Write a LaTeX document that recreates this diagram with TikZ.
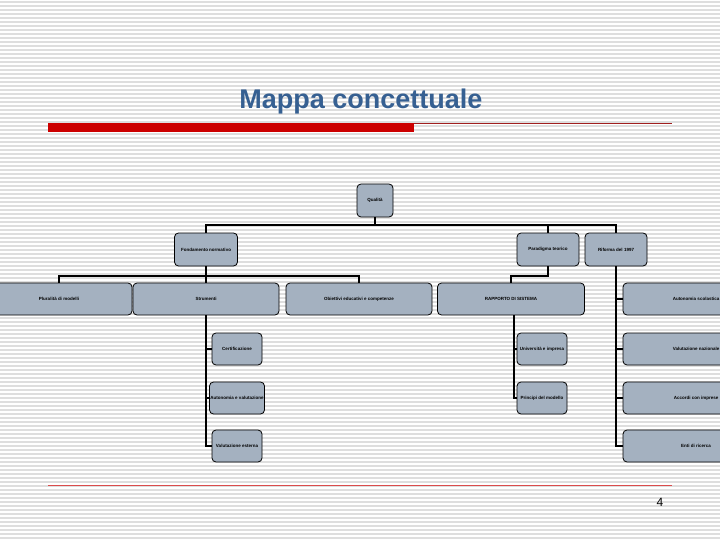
\documentclass[tikz,border=0pt]{standalone}
\usepackage{fontspec}
\setmainfont{Liberation Sans}
\definecolor{titleblue}{RGB}{54,96,146}
\definecolor{boxfill}{RGB}{164,177,192}
\definecolor{barred}{RGB}{204,0,0}
\definecolor{linered}{RGB}{160,30,30}
\definecolor{stripegray}{RGB}{222,222,222}
\tikzset{
  stripe/.style={draw=stripegray, line width=1.2pt},
  nbox/.style={draw=black, line width=0.8pt, fill=boxfill, rounded corners=4pt,
    inner sep=1pt, align=center, font=\fontsize{4.5}{5}\selectfont\bfseries},
  conn/.style={draw=black, line width=2.6pt},
}
\begin{document}
\begin{tikzpicture}[x=1pt,y=-1pt]
\useasboundingbox (0,0) rectangle (720,540);
\clip (0,0) rectangle (720,540);
\fill[white] (0,0) rectangle (720,540);
\foreach \yy in {2,6,...,540} \draw[stripe] (0,\yy) -- (720,\yy);

% title
\node[font=\fontsize{27}{30}\selectfont\bfseries, text=titleblue] (title) at (361,102) {Mappa concettuale};
\fill[barred] (48,123) rectangle (414,132);
\draw[linered, line width=0.8pt] (414,123.5) -- (672,123.5);
\draw[barred!70, line width=0.8pt] (48,485) -- (672,485);
\node[font=\fontsize{12}{14}\selectfont] (pnum) at (660,502) {4};

% nodes
\node[nbox, minimum width=36pt, minimum height=33pt] (root) at (375,200.5) {Qualità};
\node[nbox, minimum width=63pt, minimum height=33pt] (l1a) at (206,249.5) {Fondamento normativo};
\node[nbox, minimum width=62pt, minimum height=33pt] (l1b) at (548,249.5) {Paradigma teorico};
\node[nbox, minimum width=62pt, minimum height=33pt] (l1c) at (616,249.5) {Riforma del 1997};

\node[nbox, minimum width=146pt, minimum height=32pt] (b1) at (59,299) {Pluralità di modelli};
\node[nbox, minimum width=146pt, minimum height=32pt] (b2) at (206,299) {Strumenti};
\node[nbox, minimum width=146pt, minimum height=32pt] (b3) at (359,299) {Obiettivi educativi e competenze};
\node[nbox, minimum width=147pt, minimum height=32pt] (b4) at (511,299) {RAPPORTO DI SISTEMA};
\node[nbox, minimum width=146pt, minimum height=32pt] (b5) at (696,299) {Autonomia scolastica};

\node[nbox, minimum width=50pt, minimum height=32pt] (s1) at (237,349) {Certificazione};
\node[nbox, minimum width=50pt, minimum height=32pt] (s2) at (237,398) {Autonomia e valutazione};
\node[nbox, minimum width=50pt, minimum height=32pt] (s3) at (237,446) {Valutazione esterna};

\node[nbox, minimum width=50pt, minimum height=32pt] (u1) at (542,349) {Università e impresa};
\node[nbox, minimum width=50pt, minimum height=32pt] (u2) at (542,398) {Principi del modello};

\node[nbox, minimum width=146pt, minimum height=32pt] (r1) at (696,349) {Valutazione nazionale};
\node[nbox, minimum width=146pt, minimum height=32pt] (r2) at (696,398) {Accordi con imprese};
\node[nbox, minimum width=146pt, minimum height=32pt] (r3) at (696,446) {Enti di ricerca};

% connectors
\coordinate (j0) at (375,225);
\coordinate (j1) at (206,276);
\coordinate (j2) at (548,276);
\draw[conn] (root.south) -- (j0);
\draw[conn] (l1a.north) |- (j0) -| (l1c.north);
\draw[conn] (l1b.north) -- (l1b.north |- j0);

\draw[conn] (l1a.south) -- (j1);
\draw[conn] (b1.north) |- (j1) -| (b3.north);
\draw[conn] (b2.north) -- (b2.north |- j1);

\draw[conn] (l1b.south) -- (j2) -| (b4.north);

\draw[conn] (l1c.south) |- (b5.west);
\draw[conn] (l1c.south) |- (r1.west);
\draw[conn] (l1c.south) |- (r2.west);
\draw[conn] (l1c.south) |- (r3.west);

\draw[conn] (b2.south) |- (s1.west);
\draw[conn] (b2.south) |- (s2.west);
\draw[conn] (b2.south) |- (s3.west);

\draw[conn] ([xshift=3pt]b4.south) |- (u1.west);
\draw[conn] ([xshift=3pt]b4.south) |- (u2.west);
\end{tikzpicture}
\end{document}
